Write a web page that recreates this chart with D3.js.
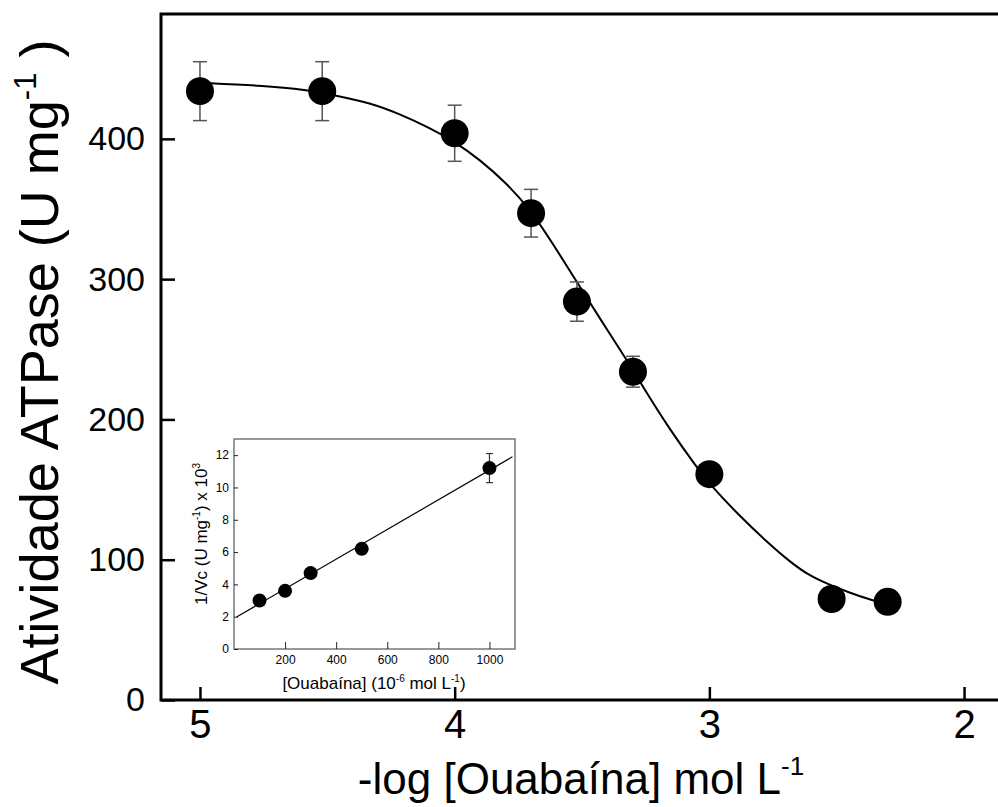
<!DOCTYPE html>
<html lang="pt">
<head>
    <meta charset="UTF-8">
    <title>Atividade ATPase vs Ouabaína</title>
    <style>
        body{ margin:0; background:#fff; }
        svg{ display:block; font-family:"Liberation Sans", Arial, sans-serif; }
        .axis text{ fill:#000; }
        .errbar{ stroke:#555; stroke-width:1.5; fill:none; }
        .fit{ stroke:#000; stroke-width:2; fill:none; }
        .inset .errbar{ stroke:#333; stroke-width:1.2; }
        .inset .fit{ stroke-width:1.2; }
    </style>
</head>
<body>
    <svg class="chart" width="998" height="807"></svg>
    <script src="https://cdn.jsdelivr.net/npm/d3@7/dist/d3.min.js"></script>
    <script>
        // main plot: -log[ouabain] vs activity
        var pLog = [5.0, 4.52, 4.0, 3.70, 3.52, 3.30, 3.0, 2.52, 2.30];
        var activity = [434, 434, 404, 347, 284, 234, 161, 72, 70];
        var activityErr = [21, 21, 20, 17, 14, 11, 4, 3, 3];
        // fitted curve
        var curveX = [5.0, 4.76, 4.58, 4.47, 4.33, 4.22, 4.10, 4.0, 3.90, 3.80, 3.70, 3.61, 3.52, 3.43, 3.33, 3.26, 3.16, 3.05, 2.99, 2.88, 2.77, 2.68, 2.61, 2.54, 2.45, 2.36, 2.30];
        var curveY = [440, 438, 435, 431, 425.5, 418, 408, 398, 385, 369, 349, 324, 298, 272, 244, 223, 194, 166, 152, 131, 112, 98, 89, 83, 76.5, 71, 68];
        var xTicks = [5, 4, 3, 2];
        var yTicks = [0, 100, 200, 300, 400];

        // inset: double reciprocal
        var insetConc = [100, 200, 300, 500, 1000];
        var insetInv = [3.0, 3.6, 4.7, 6.2, 11.2];
        var insetErr = [0.15, 0.15, 0.2, 0.3, 0.9];
        var insetLineX = [10, 1090];
        var insetLineY = [1.98, 11.9];
        var insetXTicks = [200, 400, 600, 800, 1000];
        var insetYTicks = [0, 2, 4, 6, 8, 10, 12];

        var svg = d3.select("svg");

        var x = d3.scaleLinear().domain([5.153, 1.8]).range([161, 1015]);
        var y = d3.scaleLinear().domain([0, 489]).range([700, 14]);

        // frame (right side is off the page)
        svg.append("path")
            .attr("d", "M" + x(1.8) + "," + y(489) + "H" + x(5.153) + "V" + y(0) + "H" + x(1.8))
            .attr("fill", "none").attr("stroke", "#000").attr("stroke-width", 3);

        var yAxis = svg.append("g")
            .attr("class", "axis")
            .attr("transform", "translate(" + x(5.153) + ",0)")
            .call(d3.axisLeft(y).tickValues(yTicks).tickSizeInner(-14).tickSizeOuter(0).tickPadding(16));
        yAxis.select(".domain").remove();
        yAxis.selectAll("line").attr("stroke", "#000").attr("stroke-width", 2.5);
        yAxis.selectAll("text").attr("font-size", 34).attr("font-family", "Liberation Sans, Arial, sans-serif");

        var xAxis = svg.append("g")
            .attr("class", "axis")
            .attr("transform", "translate(0," + y(0) + ")")
            .call(d3.axisBottom(x).tickValues(xTicks).tickSizeInner(-13).tickSizeOuter(0).tickPadding(10).tickFormat(d3.format("d")));
        xAxis.select(".domain").remove();
        xAxis.selectAll("line").attr("stroke", "#000").attr("stroke-width", 2.5);
        xAxis.selectAll("text").attr("font-size", 40).attr("font-family", "Liberation Sans, Arial, sans-serif");

        // axis titles
        var yt = svg.append("text")
            .attr("transform", "translate(58,362) rotate(-90)")
            .attr("text-anchor", "middle")
            .attr("font-size", 54);
        yt.append("tspan").text("Atividade ATPase (U mg");
        yt.append("tspan").attr("font-size", 31).attr("dy", -22).text("-1");
        yt.append("tspan").attr("dy", 22).text(" )");

        var xt = svg.append("text")
            .attr("x", 581).attr("y", 794)
            .attr("text-anchor", "middle")
            .attr("font-size", 44);
        xt.append("tspan").text("-log [Ouabaína] mol L");
        xt.append("tspan").attr("font-size", 26).attr("dy", -19).text("-1");

        // fitted curve
        var curveData = curveX.map(function(d, i){ return [d, curveY[i]]; });
        svg.append("path")
            .datum(curveData)
            .attr("class", "fit")
            .attr("d", d3.line()
                .x(function(d){ return x(d[0]); })
                .y(function(d){ return y(d[1]); })
                .curve(d3.curveBasis));

        var pts = pLog.map(function(d, i){ return {x:d, y:activity[i], e:activityErr[i]}; });
        var eb = svg.append("g").selectAll("g").data(pts).enter().append("g");
        eb.append("line").attr("class", "errbar")
            .attr("x1", function(d){ return x(d.x); }).attr("x2", function(d){ return x(d.x); })
            .attr("y1", function(d){ return y(d.y - d.e); }).attr("y2", function(d){ return y(d.y + d.e); });
        eb.append("line").attr("class", "errbar")
            .attr("x1", function(d){ return x(d.x) - 7; }).attr("x2", function(d){ return x(d.x) + 7; })
            .attr("y1", function(d){ return y(d.y + d.e); }).attr("y2", function(d){ return y(d.y + d.e); });
        eb.append("line").attr("class", "errbar")
            .attr("x1", function(d){ return x(d.x) - 7; }).attr("x2", function(d){ return x(d.x) + 7; })
            .attr("y1", function(d){ return y(d.y - d.e); }).attr("y2", function(d){ return y(d.y - d.e); });
        svg.append("g").selectAll("circle").data(pts).enter().append("circle")
            .attr("cx", function(d){ return x(d.x); })
            .attr("cy", function(d){ return y(d.y); })
            .attr("r", 14)
            .attr("fill", "#000");

        // ---------- inset ----------
        var ix = d3.scaleLinear().domain([0, 1100]).range([234, 515]);
        var iy = d3.scaleLinear().domain([0, 13]).range([649, 439]);
        var inset = svg.append("g").attr("class", "inset");

        inset.append("rect")
            .attr("x", ix(0)).attr("y", iy(13))
            .attr("width", ix(1100) - ix(0)).attr("height", iy(0) - iy(13))
            .attr("fill", "#fff").attr("stroke", "#777").attr("stroke-width", 1.5);

        var iyAxis = inset.append("g").attr("class", "axis")
            .attr("transform", "translate(" + ix(0) + ",0)")
            .call(d3.axisLeft(iy).tickValues(insetYTicks).tickSizeInner(-4).tickSizeOuter(0).tickPadding(5));
        iyAxis.select(".domain").remove();
        iyAxis.selectAll("line").attr("stroke", "#222");
        iyAxis.selectAll("text").attr("font-size", 12).attr("font-family", "Liberation Sans, Arial, sans-serif");

        var ixAxis = inset.append("g").attr("class", "axis")
            .attr("transform", "translate(0," + iy(0) + ")")
            .call(d3.axisBottom(ix).tickValues(insetXTicks).tickSizeInner(-7).tickSizeOuter(0).tickPadding(6).tickFormat(d3.format("d")));
        ixAxis.select(".domain").remove();
        ixAxis.selectAll("line").attr("stroke", "#222");
        ixAxis.selectAll("text").attr("font-size", 12).attr("font-family", "Liberation Sans, Arial, sans-serif");

        var iyt = inset.append("text")
            .attr("transform", "translate(207,534) rotate(-90)")
            .attr("text-anchor", "middle")
            .attr("font-size", 17);
        iyt.append("tspan").text("1/Vc (U mg");
        iyt.append("tspan").attr("font-size", 10).attr("dy", -7).text("-1");
        iyt.append("tspan").attr("dy", 7).text(") x 10");
        iyt.append("tspan").attr("font-size", 10).attr("dy", -7).text("3");

        var ixt = inset.append("text")
            .attr("x", 374).attr("y", 689)
            .attr("text-anchor", "middle")
            .attr("font-size", 17);
        ixt.append("tspan").text("[Ouabaína] (10");
        ixt.append("tspan").attr("font-size", 10).attr("dy", -7).text("-6");
        ixt.append("tspan").attr("dy", 7).text(" mol L");
        ixt.append("tspan").attr("font-size", 10).attr("dy", -7).text("-1");
        ixt.append("tspan").attr("dy", 7).text(")");

        inset.append("line")
            .attr("class", "fit")
            .attr("x1", ix(insetLineX[0])).attr("y1", iy(insetLineY[0]))
            .attr("x2", ix(insetLineX[1])).attr("y2", iy(insetLineY[1]));

        var ipts = insetConc.map(function(d, i){ return {x:d, y:insetInv[i], e:insetErr[i]}; });
        var ieb = inset.append("g").selectAll("g").data(ipts).enter().append("g");
        ieb.append("line").attr("class", "errbar")
            .attr("x1", function(d){ return ix(d.x); }).attr("x2", function(d){ return ix(d.x); })
            .attr("y1", function(d){ return iy(d.y - d.e); }).attr("y2", function(d){ return iy(d.y + d.e); });
        ieb.append("line").attr("class", "errbar")
            .attr("x1", function(d){ return ix(d.x) - 3.5; }).attr("x2", function(d){ return ix(d.x) + 3.5; })
            .attr("y1", function(d){ return iy(d.y + d.e); }).attr("y2", function(d){ return iy(d.y + d.e); });
        ieb.append("line").attr("class", "errbar")
            .attr("x1", function(d){ return ix(d.x) - 3.5; }).attr("x2", function(d){ return ix(d.x) + 3.5; })
            .attr("y1", function(d){ return iy(d.y - d.e); }).attr("y2", function(d){ return iy(d.y - d.e); });
        inset.append("g").selectAll("circle").data(ipts).enter().append("circle")
            .attr("cx", function(d){ return ix(d.x); })
            .attr("cy", function(d){ return iy(d.y); })
            .attr("r", 7)
            .attr("fill", "#000");
    </script>
</body>
</html>
